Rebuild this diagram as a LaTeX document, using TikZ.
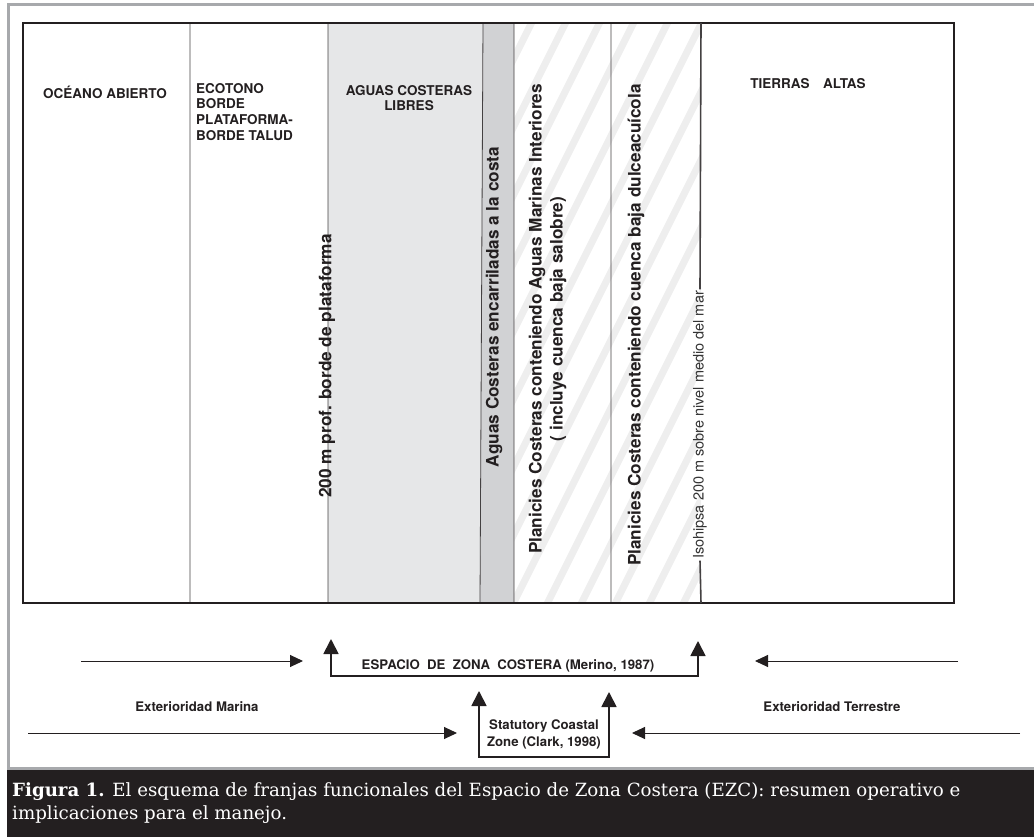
\documentclass[tikz,border=0pt]{standalone}
\usepackage{fontspec}
\setsansfont{TeX Gyre Heros}
\newfontfamily\leyendafont{DejaVu Serif}
\usetikzlibrary{arrows.meta}
\definecolor{tinta}{HTML}{231F20}
\definecolor{aguaslibres}{HTML}{E6E7E8}
\definecolor{aguasencarril}{HTML}{D1D2D4}
\definecolor{marco}{HTML}{A7A9AC}
\definecolor{franja}{HTML}{EEEEEE}
\begin{document}
\begin{tikzpicture}[x=1pt,y=-1pt,
	titulo/.style={font=\sffamily\bfseries\fontsize{13.5}{15.6}\selectfont, text=tinta, inner sep=0pt},
	vertical/.style={rotate=90, font=\sffamily\bfseries\fontsize{17.2}{21}\selectfont, text=tinta, inner sep=0pt},
	isolinea/.style={rotate=90, font=\sffamily\fontsize{14.5}{16}\selectfont, text=black!80, inner sep=1.5pt},
	etiqueta/.style={font=\sffamily\bfseries\fontsize{13.2}{17}\selectfont, text=tinta, inner sep=0pt},
	flecha/.style={-{Triangle[length=13pt,width=12pt]}, line width=1pt, tinta},
	cota/.style={{Triangle[length=15pt,width=15pt]}-{Triangle[length=15pt,width=15pt]}, line width=1.8pt, tinta},
	franjas/.style={franja, line width=7pt},
	]
	\useasboundingbox (0,0) rectangle (1034,837);
	% marco y leyenda
	\fill[marco] (7,3.5) rectangle (1034,6.5);
	\fill[marco] (7,3.5) rectangle (10,771);
	\fill[marco] (7,767) rectangle (1034,770);
	\fill[tinta] (7,770) rectangle (1034,837);
	
	\coordinate (NO) at (23,23);
	\coordinate (SE) at (954,603);
	
	% franjas de agua
	\fill[aguaslibres] (328,23) -- (483,23) -- (480,603) -- (328,603) -- cycle;
	\fill[aguasencarril] (483,23) -- (514,23) -- (514,603) -- (480,603) -- cycle;
	\begin{scope}
		\clip (514,23) rectangle (701,603);
		\foreach \k in {0,...,17}
			\draw[franjas] ({170+\k*34},610) -- ++(360,-720);
	\end{scope}
	
	% limites
	\draw[tinta!85, line width=0.8pt] (190,23) -- (190,603) (328,23) -- (328,603)
		(483,23) -- (480,603) (514,23) -- (514,603) (611,23) -- (611,603);
	\draw[tinta, line width=1.1pt] (NO) rectangle (SE);
	
	\node[titulo] (oceano) at (105,92) {OCÉANO ABIERTO};
	\node[titulo, align=left, anchor=north west] (ecotono) at (196,83) {ECOTONO\\BORDE\\PLATAFORMA-\\BORDE TALUD};
	\node[titulo, align=center, anchor=north] (libres) at (409,85) {AGUAS COSTERAS\\LIBRES};
	\node[titulo] (altas) at (808,84) {TIERRAS\hspace{1em}ALTAS};
	
	\node[vertical] (plataforma) at (327,366) {200 m prof. borde de plataforma};
	\node[vertical] (encarril) at (494,307) {Aguas Costeras encarriladas a la costa};
	\node[vertical, align=center] (interiores) at (547.5,319) {Planicies Costeras conteniendo Aguas Marinas Interiores\\( incluye cuenca baja salobre)};
	\node[vertical] (dulce) at (636,325) {Planicies Costeras conteniendo cuenca baja dulceacuícola};
	\node[isolinea] (isohipsa) at (700,425) {Isohipsa 200 m sobre nivel medio del mar};
	\draw[tinta!85, line width=1.6pt] (701,23) -- (isohipsa.east) (isohipsa.west) -- (701,603);
	
	% espacios y exterioridades
	\coordinate (mar1) at (81,661);   \coordinate (mar1f) at (303,661);
	\coordinate (tie1) at (958,661);  \coordinate (tie1f) at (755,661);
	\coordinate (mar2) at (28,733);   \coordinate (mar2f) at (457,733);
	\coordinate (tie2) at (1020,733); \coordinate (tie2f) at (632,733);
	\draw[flecha] (mar1) -- (mar1f);
	\draw[flecha] (tie1) -- (tie1f);
	\draw[flecha] (mar2) -- (mar2f);
	\draw[flecha] (tie2) -- (tie2f);
	
	\coordinate (ezcA) at (331,639); \coordinate (ezcB) at (698,641);
	\draw[cota] (ezcA) -- (331,676) -- (698,676) -- (ezcB);
	\node[etiqueta] (espacio) at (508,666) {ESPACIO\ \ DE\ \ ZONA\ \ COSTERA (Merino, 1987)};
	
	\coordinate (sczA) at (479,691); \coordinate (sczB) at (609,692);
	\draw[cota] (sczA) -- (479,757) -- (609,757) -- (sczB);
	\node[etiqueta, align=center] (statutory) at (544,734) {Statutory Coastal\\Zone (Clark, 1998)};
	
	\node[etiqueta] (marina) at (197,707) {Exterioridad Marina};
	\node[etiqueta] (terrestre) at (832,707) {Exterioridad Terrestre};
	
	\node[anchor=north west, align=left, inner sep=0pt, text=white, font=\leyendafont\fontsize{18.2}{23.5}\selectfont] (leyenda) at (12,782)
		{\textbf{Figura 1.} El esquema de franjas funcionales del Espacio de Zona Costera (EZC): resumen operativo e\\implicaciones para el manejo.};
\end{tikzpicture}
\end{document}
